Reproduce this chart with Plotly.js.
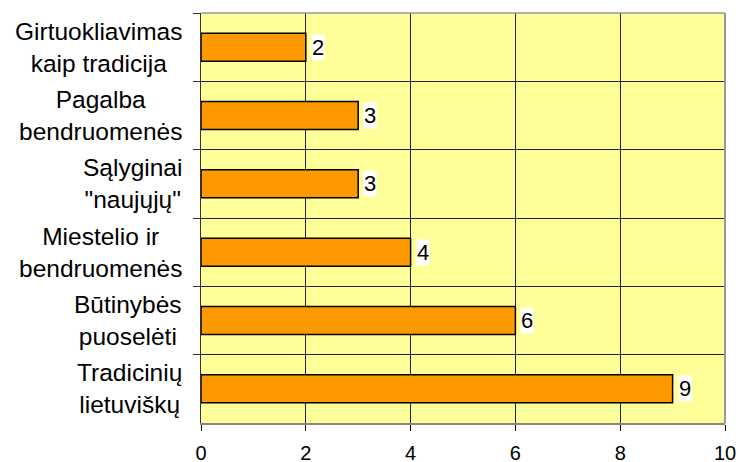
<!DOCTYPE html>
<html>
<head>
<meta charset="utf-8">
<script src="https://cdn.plot.ly/plotly-3.0.1.min.js"></script>
<style>html,body{margin:0;padding:0;background:#fff;}#chart{width:739px;height:462px;}</style>
</head>
<body>
<div id="chart"></div>
<script>
// Categories listed top to bottom
var categories = [
  "Girtuokliavimas<br>kaip tradicija",
  "Pagalba<br>bendruomenės",
  "Sąlyginai<br>\"naujųjų\"",
  "Miestelio ir<br>bendruomenės",
  "Būtinybės<br>puoselėti",
  "Tradicinių<br>lietuviškų"
];
var values = [2, 3, 3, 4, 6, 9];
var xTicks = [0, 2, 4, 6, 8, 10];

var font = "Liberation Sans, Arial, sans-serif";

var trace = {
  type: "bar",
  orientation: "h",
  x: values,
  y: categories,
  width: 0.41,
  marker: {color: "#FF9900", line: {color: "#000000", width: 1.5}},
  hoverinfo: "none"
};

var annotations = [];
for (var i = 0; i < values.length; i++) {
  // value labels
  annotations.push({
    x: values[i], y: categories[i], xref: "x", yref: "y",
    text: String(values[i]), showarrow: false,
    xanchor: "left", yanchor: "middle", xshift: 5,
    bgcolor: "#FFFFFF", borderpad: 0,
    font: {family: font, size: 22, color: "#000"}
  });
  // category labels (centered multi-line)
  annotations.push({
    x: 0, y: categories[i], xref: "paper", yref: "y",
    text: categories[i], showarrow: false,
    xanchor: "right", yanchor: "middle", xshift: -17, align: "center",
    font: {family: font, size: 24.5, color: "#000"}
  });
}

var layout = {
  width: 739, height: 462,
  margin: {l: 201, r: 14, t: 13, b: 39, pad: 0},
  paper_bgcolor: "#FFFFFF",
  plot_bgcolor: "#FFFF99",
  showlegend: false,
  font: {family: font, color: "#000"},
  xaxis: {
    range: [0, 10],
    tickvals: xTicks, ticktext: xTicks.map(String),
    ticks: "outside", ticklen: 6, tickcolor: "#000", tickwidth: 1,
    ticklabelstandoff: 5,
    showgrid: true, gridcolor: "#222", gridwidth: 1,
    zeroline: false,
    showline: true, linecolor: "#888", linewidth: 1.5,
    tickfont: {family: font, size: 20, color: "#000"},
    fixedrange: true
  },
  yaxis: {
    type: "category",
    categoryorder: "array", categoryarray: categories,
    range: [5.5, -0.5],
    tickson: "boundaries",
    ticks: "outside", ticklen: 7, tickcolor: "#333", tickwidth: 1,
    showticklabels: false,
    showgrid: true, gridcolor: "#222", gridwidth: 1,
    showline: true, linecolor: "#333", linewidth: 1.5,
    zeroline: false,
    fixedrange: true
  },
  shapes: [
    {type: "line", xref: "paper", yref: "paper", x0: 0, x1: 1, y0: 1, y1: 1, line: {color: "#999", width: 1.5}},
    {type: "line", xref: "paper", yref: "paper", x0: 1, x1: 1, y0: 0, y1: 1, line: {color: "#999", width: 2}}
  ],
  annotations: annotations
};

Plotly.newPlot("chart", [trace], layout, {displayModeBar: false, staticPlot: true});
</script>
</body>
</html>
